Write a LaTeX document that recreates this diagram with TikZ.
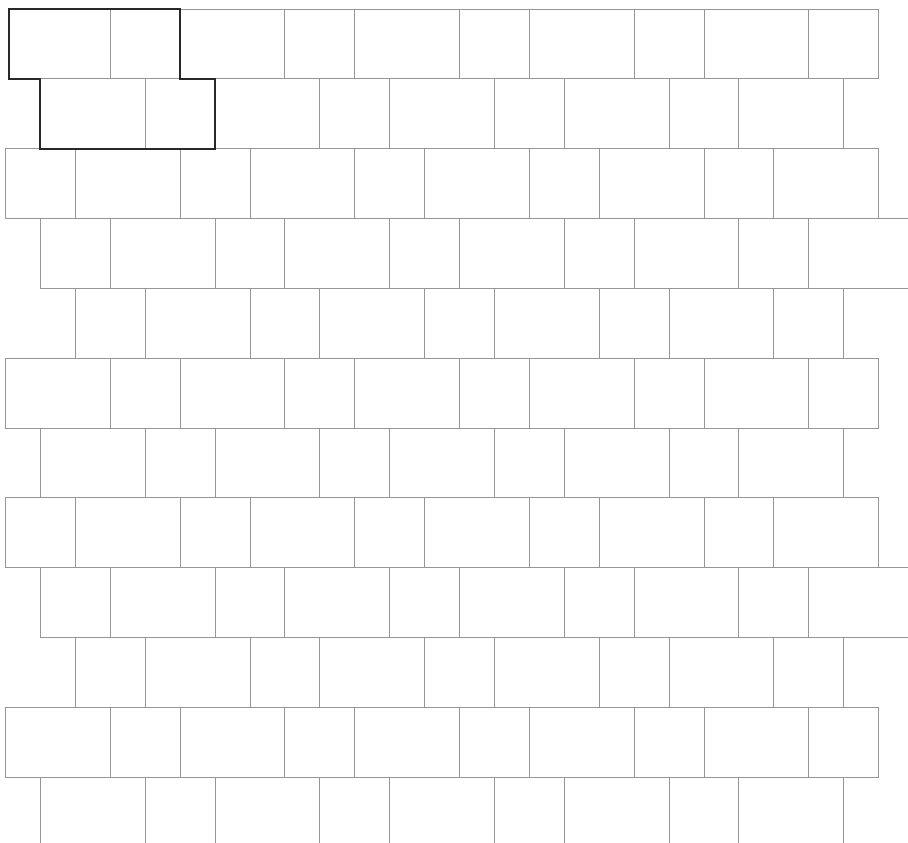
\documentclass[tikz,border=0pt]{standalone}
\definecolor{tilegray}{RGB}{150,150,150}
\definecolor{outlinegray}{RGB}{40,40,40}
\begin{document}
\begin{tikzpicture}[x=1pt,y=-1pt,
  tile/.style={draw=tilegray, line width=0.8pt},
  outline/.style={draw=outlinegray, line width=1.9pt, line join=miter}]
\useasboundingbox[fill=white] (0,0) rectangle (908,843);
\clip (0,0) rectangle (908,843);
\foreach \r in {0,...,11}{
  \pgfmathtruncatemacro{\s}{mod(\r,5)}
  \foreach \k in {-1,...,5}{
    \foreach \o/\w in {0/3,3/2}{
      \pgfmathtruncatemacro{\L}{5*\k+\o+\s}
      \pgfmathtruncatemacro{\okay}{and(\L>=0,\L<=23)*(1-and(\r==0,\L==0))}
      \ifnum\okay=1
        \draw[tile] ({5.5+34.92*\L},{9+69.84*\r}) rectangle ({5.5+34.92*(\L+\w)},{9+69.84*(\r+1)});
      \fi
    }
  }
}
\draw[outline] (9,9.3) -- (180.1,9.3) -- (180.1,78.8) -- (215.0,78.8) -- (215.0,148.7)
  -- (40.4,148.7) -- (40.4,78.8) -- (9,78.8) -- cycle;
\end{tikzpicture}
\end{document}
